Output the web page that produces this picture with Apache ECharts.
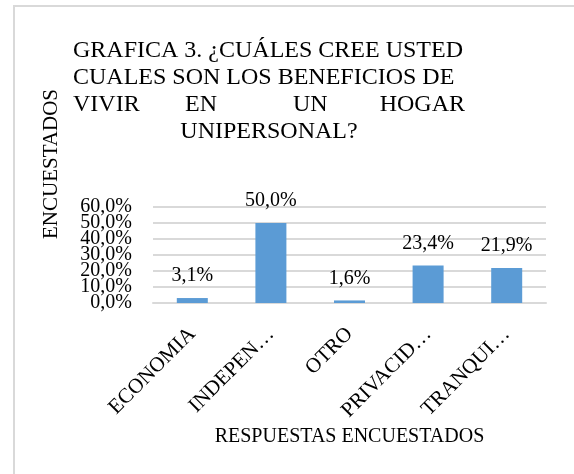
<!DOCTYPE html>
<html>
<head>
<meta charset="utf-8">
<script src="https://cdn.jsdelivr.net/npm/echarts@6/dist/echarts.min.js"></script>
<style>
    html, body { margin: 0; padding: 0; background: #fff; }
    #main { width: 574px; height: 474px; }
</style>
</head>
<body>
<div id="main"></div>
<script>
// datos
var categorias = ['ECONOMIA', 'INDEPEN…', 'OTRO', 'PRIVACID…', 'TRANQUI…'];
var valores = [3.1, 50.0, 1.6, 23.4, 21.9];
var ejeY = { min: 0, max: 60, interval: 10 };
// las etiquetas del eje Y se solapan, se reparten en dos ejes
var marcasPares = [0, 20, 40, 60];
var marcasImpares = [10, 30, 50];

var fuente = "'Liberation Serif', 'Times New Roman', serif";

function porcentaje(v) {
    return v.toFixed(1).replace('.', ',') + '%';
}//formato 50,0%

var myChart = echarts.init(document.getElementById('main'));

function linea(texto, x, y) {
    return {
        text: texto,
        left: x,
        top: y,
        padding: 0,
        textStyle: { fontFamily: fuente, fontSize: 24, fontWeight: 'normal', color: '#000' }
    };
}

function ejeValor(marcas, rejilla) {
    return {
        type: 'value',
        position: 'left',
        min: ejeY.min,
        max: ejeY.max,
        interval: ejeY.interval,
        axisLine: { show: false },
        axisTick: { show: false },
        splitLine: { show: rejilla, lineStyle: { color: '#d9d9d9', width: 2 } },
        axisLabel: {
            margin: 21,
            customValues: marcas,
            showMinLabel: true,
            showMaxLabel: true,
            fontFamily: fuente,
            fontSize: 20,
            color: '#000',
            formatter: porcentaje
        }
    };
}

var option = {
    animation: false,
    title: [
        linea('GRAFICA 3. ¿CUÁLES CREE USTED', 73, 39),
        linea('CUALES SON LOS BENEFICIOS DE', 73, 66),
        linea('VIVIR', 73, 93),
        linea('EN', 185, 93),
        linea('UN', 293, 93),
        { text: 'HOGAR', right: 109, top: 93, padding: 0, textStyle: { fontFamily: fuente, fontSize: 24, fontWeight: 'normal', color: '#000' } },
        { text: 'UNIPERSONAL?', left: 269, top: 120, padding: 0, textAlign: 'center', textStyle: { fontFamily: fuente, fontSize: 24, fontWeight: 'normal', color: '#000' } }
    ],
    graphic: [
        {
            type: 'rect',
            shape: { x: 14, y: 6, width: 700, height: 600 },
            style: { fill: 'none', stroke: '#d9d9d9', lineWidth: 2 },
            silent: true
        },
        {
            type: 'text',
            x: 51,
            y: 164,
            rotation: Math.PI / 2,
            style: {
                text: 'ENCUESTADOS',
                font: '21px ' + fuente,
                fill: '#000',
                align: 'center',
                verticalAlign: 'middle'
            }
        }
    ],
    grid: { left: 153, right: 28, top: 207, bottom: 171 },
    xAxis: {
        type: 'category',
        data: categorias,
        name: 'RESPUESTAS ENCUESTADOS',
        nameLocation: 'middle',
        nameGap: 124,
        nameTextStyle: { fontFamily: fuente, fontSize: 20, color: '#000', verticalAlign: 'top' },
        axisLine: { lineStyle: { color: '#d9d9d9', width: 2 } },
        axisTick: { show: false },
        axisLabel: { rotate: 45, margin: 28, fontFamily: fuente, fontSize: 21, color: '#000', interval: 0 }
    },
    yAxis: [ejeValor(marcasPares, true), ejeValor(marcasImpares, false)],
    series: [{
        type: 'bar',
        data: valores,
        barWidth: 31,
        itemStyle: { color: '#5b9bd5' },
        label: {
            show: true,
            position: 'top',
            distance: 12,
            fontFamily: fuente,
            fontSize: 20,
            color: '#000',
            formatter: function (p) { return porcentaje(p.value); }
        }
    }]
};

myChart.setOption(option);
</script>
</body>
</html>
